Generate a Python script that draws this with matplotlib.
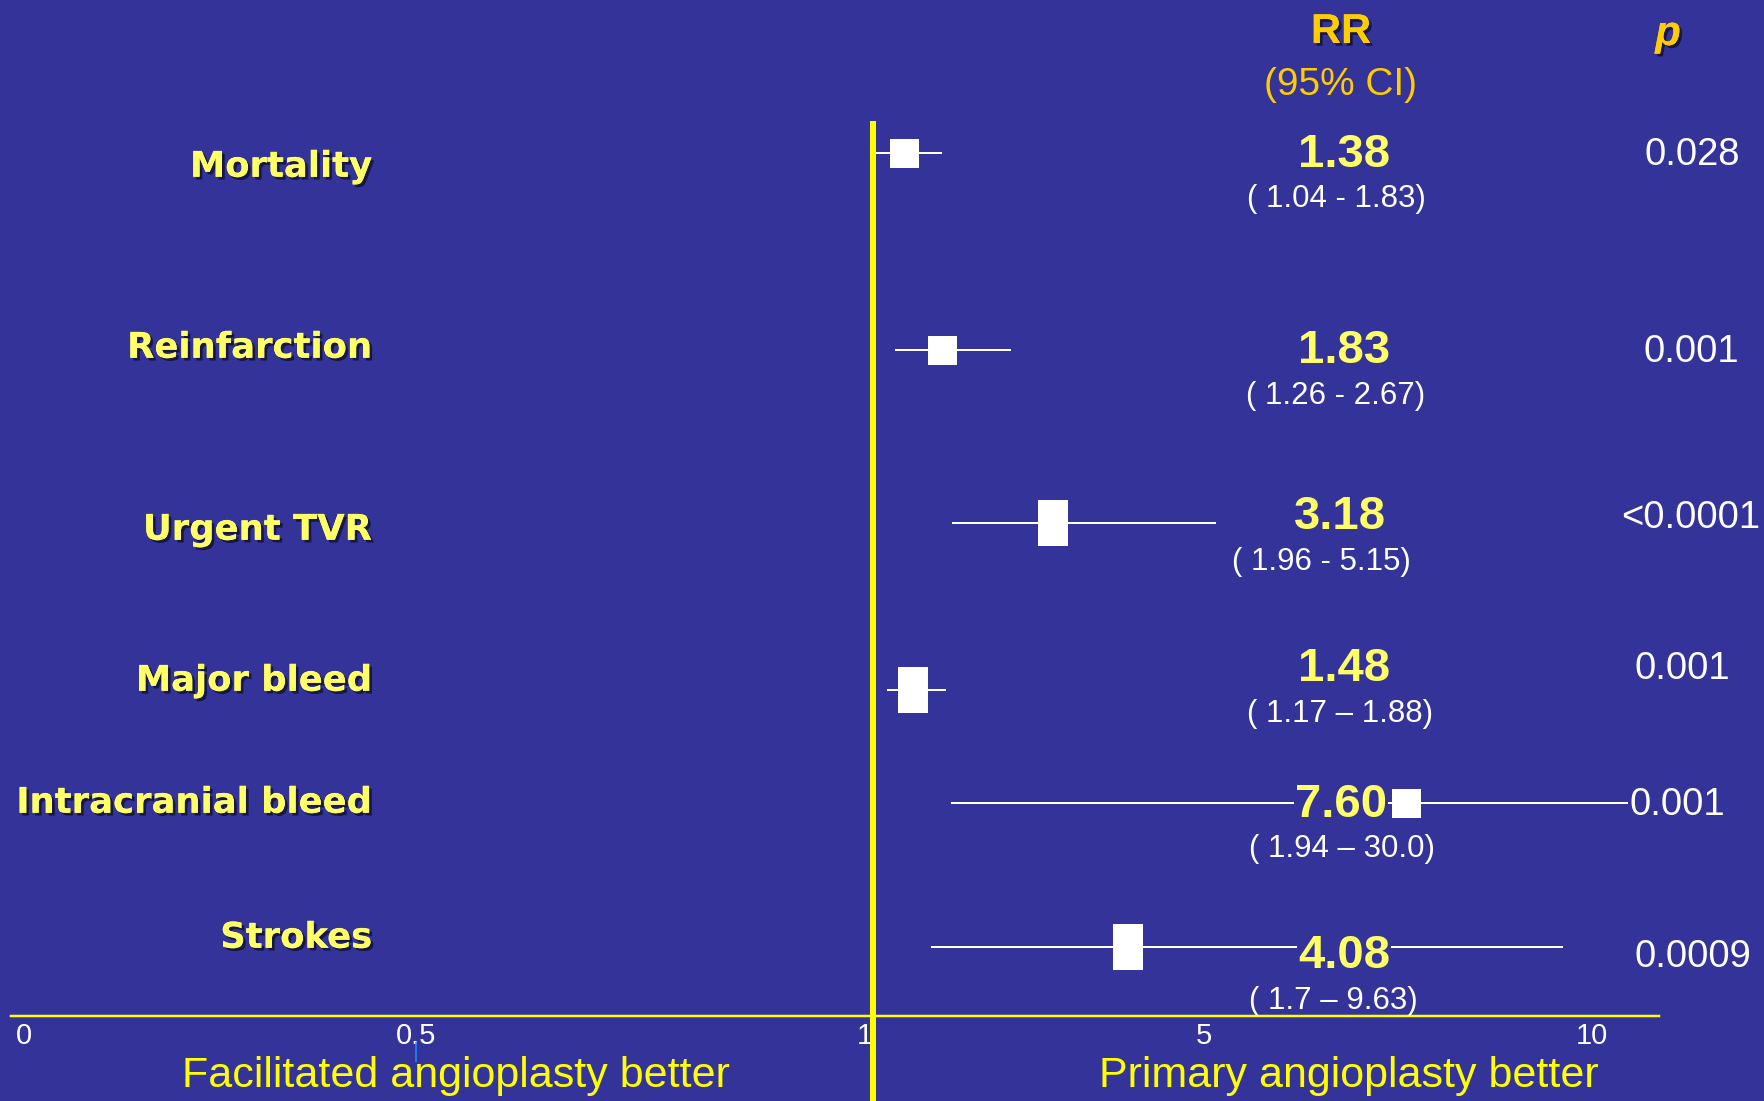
import numpy as np
import matplotlib
matplotlib.use("Agg")
import matplotlib.pyplot as plt
import matplotlib.patheffects as pe

plt.rcParams['font.family'] = ['Liberation Sans', 'DejaVu Sans']

# relative risk of facilitated vs primary angioplasty, per outcome
outcomes = ["Mortality", "Reinfarction", "Urgent TVR", "Major bleed",
            "Intracranial bleed", "Strokes"]
rr = [1.38, 1.83, 3.18, 1.48, 7.60, 4.08]
ci_low = [1.04, 1.26, 1.96, 1.17, 1.94, 1.7]
ci_high = [1.83, 2.67, 5.15, 1.88, 30.0, 9.63]
ci_labels = ["( 1.04 - 1.83)", "( 1.26 - 2.67)", "( 1.96 - 5.15)",
             "( 1.17 \u2013 1.88)", "( 1.94 \u2013 30.0)", "( 1.7 \u2013 9.63)"]
p_values = ["0.028", "0.001", "<0.0001", "0.001", "0.001", "0.0009"]
ticks = [0, 0.5, 1, 5, 10]
tick_labels = ["0", "0.5", "1", "5", "10"]

# slide geometry (pixels, measured from the top left corner)
W, H = 1764, 1101
BG = "#333399"
PALE = "#FFFF66"
GOLD = "#FFCC00"
tick_px = [24, 416, 873, 1204, 1592]     # uneven spacing of the axis ticks
ax_left, ax_right, ax_bottom = 11, 1659, 1016
row_y = [153, 350, 523, 690, 803, 947]
box_w = [29, 29, 30, 30, 29, 30]
box_h = [29, 29, 46, 46, 29, 46]

label_y = [164, 345, 527, 678, 800, 935]
rr_xy = [(1344, 150), (1344, 346), (1340, 512), (1344, 664), (1341, 800), (1344, 951)]
ci_xy = [(1336, 196), (1336, 393), (1321, 559), (1340, 711), (1342, 846), (1333, 998)]
p_xy = [(1692, 151), (1691, 348), (1691, 514), (1682, 665), (1677, 801), (1693, 953)]

# piecewise-linear axis through the tick positions, extended at both ends
lo_slope = (tick_px[1] - tick_px[0]) / (ticks[1] - ticks[0])
hi_slope = (tick_px[-1] - tick_px[-2]) / (ticks[-1] - ticks[-2])
knot_v = np.r_[-1.0, ticks, 100.0]
knot_p = np.r_[tick_px[0] - lo_slope, tick_px, tick_px[-1] + hi_slope * 90]


def fwd(v):
    return np.interp(v, knot_v, knot_p)


def inv(p):
    return np.interp(p, knot_p, knot_v)


PX = 72.0 / 100  # points per pixel at dpi 100

fig = plt.figure(figsize=(W / 100, H / 100), dpi=100, facecolor=BG)
ax = fig.add_axes([ax_left / W, (H - ax_bottom) / H,
                   (ax_right - ax_left) / W, ax_bottom / H])
ax.set_facecolor("none")
ax.set_xscale("function", functions=(fwd, inv))
ax.set_xlim(inv(ax_left), inv(ax_right))
ax.set_ylim(ax_bottom, 0)

for side in ["top", "left", "right"]:
    ax.spines[side].set_visible(False)
ax.spines["bottom"].set_color("#FFFF00")
ax.spines["bottom"].set_linewidth(2.5 * PX)
ax.set_yticks([])
ax.set_xticks(ticks, tick_labels)
ax.tick_params(axis="x", length=0, pad=4, colors="white", labelsize=21)
# the "1" sits just left of the no-effect line
ax.get_xticklabels()[2].set_horizontalalignment("right")

# line of no effect
ax.vlines(1, 121, H, colors="#FFFF00", lw=6 * PX, clip_on=False, zorder=2)
ax.vlines(0.5, 1042, 1062, colors="#1E90FF", lw=1.5 * PX, clip_on=False)

# CI whiskers and point estimates
ax.hlines(row_y, ci_low, ci_high, colors="white", lw=2 * PX, zorder=3)
for y, v, w, h in zip(row_y, rr, box_w, box_h):
    rect = [(-w / 2, -h / 2), (w / 2, -h / 2), (w / 2, h / 2), (-w / 2, h / 2), (-w / 2, -h / 2)]
    ax.plot(v, y, marker=rect, markersize=max(w, h) * PX, color="white",
            markeredgewidth=0, zorder=4)

shadow = [pe.withSimplePatchShadow(offset=(2, -2), shadow_rgbFace="black", alpha=0.55),
          pe.Normal()]


def put(x, y, s, size, **kw):
    # y is the visual middle of the capitals; text is placed by its baseline
    base = y + 0.36 * size / PX
    return fig.text(x / W, 1 - base / H, s, fontsize=size, va="baseline", **kw)


for name, y in zip(outcomes, label_y):
    put(372, y, name, 25.5, ha="right", color=PALE, fontweight="bold",
        family="DejaVu Sans", path_effects=shadow)

cover = dict(facecolor=BG, edgecolor="none", pad=1)
for v, (x, y) in zip(rr, rr_xy):
    put(x, y, f"{v:.2f}", 34, ha="center", color=PALE, fontweight="bold",
        bbox=cover, zorder=5)
for s, (x, y) in zip(ci_labels, ci_xy):
    put(x, y, s, 22.5, ha="center", color="white")
for s, (x, y) in zip(p_values, p_xy):
    put(x, y, s, 27.5, ha="center", color="white", bbox=cover, zorder=5)

put(1341, 28, "RR", 30, ha="center", color=GOLD, fontweight="bold", path_effects=shadow)
put(1341, 81, "(95% CI)", 28, ha="center", color=GOLD)
put(1668, 30, "p", 30, ha="center", color=GOLD, fontweight="bold",
    style="italic", path_effects=shadow)

put(456, 1071, "Facilitated angioplasty better", 31, ha="center", color="#FFFF00")
put(1349, 1071, "Primary angioplasty better", 31, ha="center", color="#FFFF00")

fig.savefig("out.png", dpi=100, facecolor=BG)
